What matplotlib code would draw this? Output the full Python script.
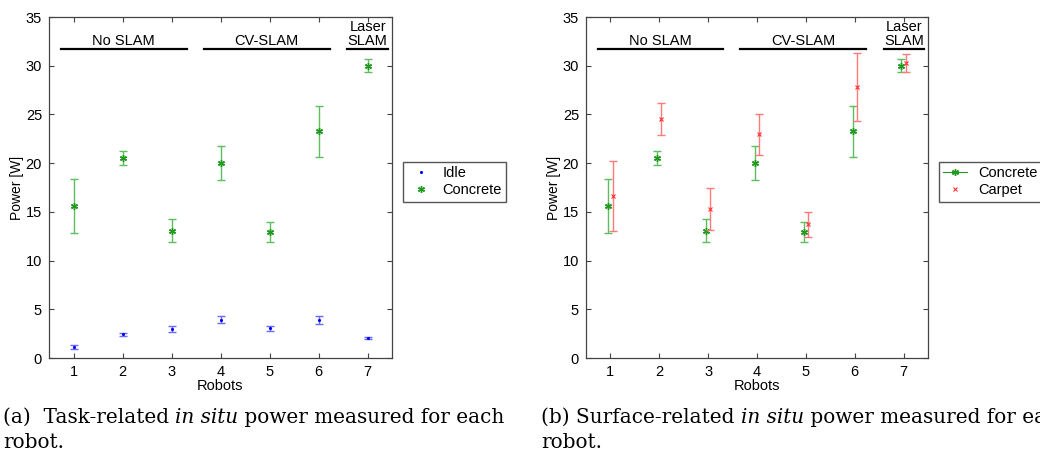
import matplotlib
matplotlib.use("Agg")
import matplotlib.pyplot as plt
from matplotlib.lines import Line2D
import numpy as np

plt.rcParams['font.family'] = ['Liberation Sans', 'DejaVu Sans']

robots = [1, 2, 3, 4, 5, 6, 7]
tick_labels = ['1', '2', '3', '4', '5', '6', '7']

idle_mean = [1.12, 2.45, 2.98, 3.93, 3.03, 3.88, 2.02]
idle_low = [0.93, 2.30, 2.68, 3.59, 2.77, 3.49, 1.92]
idle_high = [1.30, 2.60, 3.28, 4.28, 3.28, 4.28, 2.12]

concrete_mean = [15.65, 20.53, 13.05, 20.03, 12.95, 23.25, 29.95]
concrete_low = [12.85, 19.77, 11.90, 18.25, 11.90, 20.63, 29.32]
concrete_high = [18.40, 21.27, 14.25, 21.75, 13.95, 25.83, 30.65]

carpet_mean = [16.63, 24.55, 15.28, 22.95, 13.72, 27.85, 30.25]
carpet_low = [13.07, 22.89, 13.15, 20.83, 12.42, 24.36, 29.32]
carpet_high = [20.25, 26.17, 17.41, 25.04, 15.02, 31.30, 31.20]

groups = ['No SLAM', 'CV-SLAM', 'Laser\nSLAM']
group_spans = [(0.74, 3.31), (3.66, 6.23), (6.59, 7.42)]

GREEN = '#1f9a1f'
GREEN_ERR = '#5cbf5c'
BLUE = '#0000ff'
BLUE_ERR = '#6a6aff'
RED = '#ff3030'
RED_ERR = '#ff7a7a'
SPINE = '#444444'
ASTER = (6, 2, 0)

W, H = 1040, 455
fig = plt.figure(figsize=(W / 100, H / 100), dpi=100)

def fx(px):
    return px / W

def fy(py):
    return 1 - py / H

ax1 = fig.add_axes([fx(49), fy(358), fx(392 - 49), (358 - 17) / H])
ax2 = fig.add_axes([fx(586), fy(358), fx(928 - 586), (358 - 17) / H])

def errs(mean, low, high):
    m = np.array(mean)
    return m, np.vstack([m - np.array(low), np.array(high) - m])

def style_axes(ax):
    ax.set_xlim(0.5, 7.5)
    ax.set_ylim(0, 35)
    ax.set_xticks(robots)
    ax.set_xticklabels(tick_labels)
    ax.set_yticks(np.arange(0, 36, 5))
    ax.tick_params(direction='in', length=3.5, width=0.8, color=SPINE,
                   top=True, right=True, labelsize=10.5, pad=5)
    for s in ax.spines.values():
        s.set_color(SPINE)
        s.set_linewidth(0.9)
    ax.set_xlabel('Robots', fontsize=10.5, labelpad=0)
    ax.set_ylabel('Power [W]', fontsize=10, labelpad=1)
    for name, (a, b) in zip(groups, group_spans):
        ax.plot([a, b], [31.7, 31.7], color='black', lw=1.6, clip_on=False)
        ax.text((a + b) / 2, 31.85, name, ha='center', va='bottom',
                fontsize=10.5, linespacing=1.0, zorder=5)

# Left plot
x = np.array(robots, dtype=float)
m, e = errs(idle_mean, idle_low, idle_high)
ax1.errorbar(x, m, yerr=e, fmt='none', ecolor=BLUE_ERR, elinewidth=1.0,
             capsize=2.8, capthick=1.0)
ax1.plot(x, m, ls='none', marker='.', ms=2.5, color=BLUE)
m, e = errs(concrete_mean, concrete_low, concrete_high)
ax1.errorbar(x, m, yerr=e, fmt='none', ecolor=GREEN_ERR, elinewidth=1.0,
             capsize=2.8, capthick=1.0)
ax1.plot(x, m, ls='none', marker=ASTER, ms=5, color=GREEN, mew=1.0)
style_axes(ax1)

h1 = [Line2D([], [], ls='none', marker='.', ms=2.5, color=BLUE),
      Line2D([], [], ls='none', marker=ASTER, ms=5, color=GREEN, mew=1.0)]
fig.legend(h1, ['Idle', 'Concrete'], loc='upper left',
           bbox_to_anchor=(fx(403), fy(162)), fontsize=10.5, fancybox=False,
           edgecolor='#555555', framealpha=1, borderpad=0.3, labelspacing=0.2,
           handlelength=1.8, handletextpad=0.6, borderaxespad=0)

# Right plot
off = 0.045
m, e = errs(concrete_mean, concrete_low, concrete_high)
ax2.errorbar(x - off, m, yerr=e, fmt='none', ecolor=GREEN_ERR, elinewidth=1.0,
             capsize=2.8, capthick=1.0)
ax2.plot(x - off, m, ls='none', marker=ASTER, ms=5, color=GREEN, mew=1.0)
m, e = errs(carpet_mean, carpet_low, carpet_high)
ax2.errorbar(x + off, m, yerr=e, fmt='none', ecolor=RED_ERR, elinewidth=1.0,
             capsize=2.8, capthick=1.0)
ax2.plot(x + off, m, ls='none', marker='x', ms=3.5, color=RED, mew=0.8)
style_axes(ax2)

h2 = [Line2D([], [], ls='-', lw=0.8, marker=ASTER, ms=5, color=GREEN, mew=1.0),
      Line2D([], [], ls='none', marker='x', ms=3.5, color=RED, mew=0.8)]
fig.legend(h2, ['Concrete', 'Carpet'], loc='upper left',
           bbox_to_anchor=(fx(939), fy(162)), fontsize=10.5, fancybox=False,
           edgecolor='#555555', framealpha=1, borderpad=0.3, labelspacing=0.2,
           handlelength=1.6, handletextpad=0.8, borderaxespad=0)

# Captions with italic segment
renderer = fig.canvas.get_renderer()
CAP_FONT = ['DejaVu Serif']
CAP_SIZE = 14.4

def caption(x0, y_base, parts):
    xp = x0
    for txt, style in parts:
        t = fig.text(fx(xp), fy(y_base), txt, fontsize=CAP_SIZE, family=CAP_FONT,
                     style=style, ha='left', va='baseline')
        bb = t.get_window_extent(renderer=renderer)
        xp += bb.width

caption(3, 423, [('(a)  Task-related ', 'normal'), ('in situ', 'italic'),
                 (' power measured for each', 'normal')])
caption(3, 448, [('robot.', 'normal')])
caption(541, 423, [('(b) Surface-related ', 'normal'), ('in situ', 'italic'),
                   (' power measured for each', 'normal')])
caption(541, 448, [('robot.', 'normal')])

fig.savefig('out.png', dpi=100)
